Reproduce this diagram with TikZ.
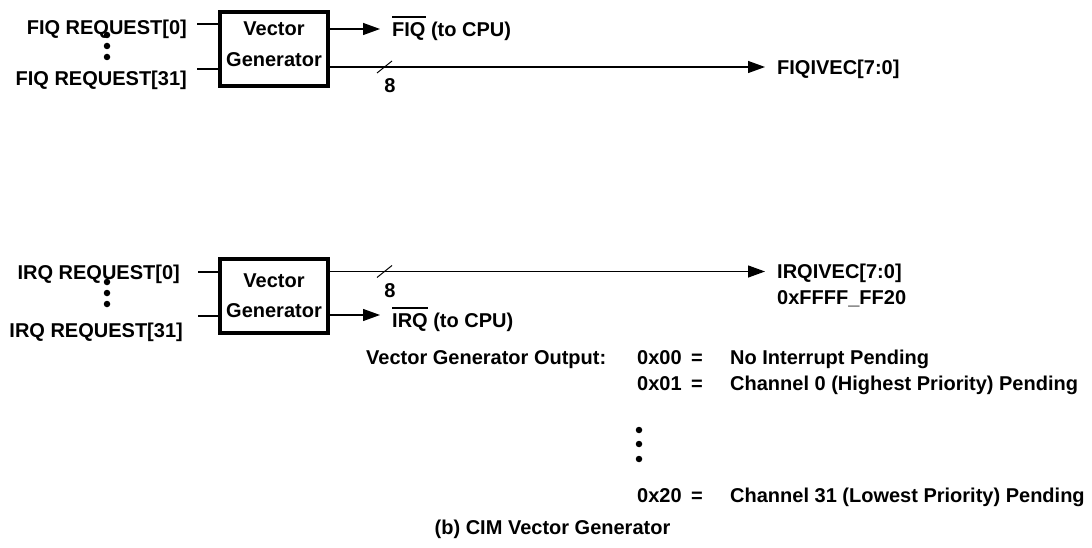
\documentclass[tikz,border=0pt]{standalone}
\usepackage{fontspec}
\setmainfont{Liberation Sans}
\usepackage{tikz}
\usetikzlibrary{arrows.meta, positioning}
\newcommand{\sigbar}[1]{\setbox0\hbox{#1}\rlap{\rule[18.5pt]{\wd0}{1.3pt}}\box0\relax}

\begin{document}
\begin{tikzpicture}[
  x=1pt, y=-1pt,
  lbl/.style={font=\fontsize{20}{24}\selectfont\bfseries, inner sep=0pt,
              text height=14.3pt, text depth=0pt},
  genbox/.style={rectangle, draw, line width=4pt,
                 minimum width=108pt, minimum height=74pt},
  wire/.style={line width=1.3pt},
  sig/.style={wire, -{Triangle[length=17pt, width=12pt]}},
  cut/.style={line width=1pt},
  vdot/.style={circle, fill, minimum size=6.5pt, inner sep=0pt}
]
\useasboundingbox (0,0) rectangle (1092,548);

% FIQ path
\node[lbl, anchor=east] (fiqreq0)  at (187,27.5) {FIQ REQUEST[0]};
\node[lbl, anchor=east] (fiqreq31) at (187,78)   {FIQ REQUEST[31]};
\node[vdot] (fiqdot1) at (107,35) {};
\node[vdot] (fiqdot2) at (107,46) {};
\node[vdot] (fiqdot3) at (107,57) {};
\node[genbox] (fiqgen) at (274,49) {};
\node[lbl] (fiqgen1) at (274,28) {Vector};
\node[lbl] (fiqgen2) at (274,59) {Generator};
\node[lbl, anchor=west] (fiqcpu) at (392,29) {\sigbar{FIQ} (to CPU)};
\node[lbl, anchor=west] (fiqvec) at (777,67) {FIQIVEC[7:0]};
\node[lbl] (fiqwidth) at (390,85) {8};
\coordinate (fiqin0)  at (197,24);
\coordinate (fiqin31) at (197,69);
\coordinate (fiqtip)  at (380,29);
\coordinate (fiqcut)  at (384.5,67);
\draw[wire] (fiqin0)  -- (fiqin0 -| fiqgen.west);
\draw[wire] (fiqin31) -- (fiqin31 -| fiqgen.west);
\draw[sig] (fiqgen.east |- fiqtip) -- (fiqtip);
\draw[sig] (fiqgen.east |- fiqvec) -- ([xshift=-12pt]fiqvec.west);
\draw[cut] ([shift={(-7.5,6)}]fiqcut) -- ([shift={(7.5,-6)}]fiqcut);

% IRQ path
\node[lbl, anchor=east] (irqreq0)  at (180,272) {IRQ REQUEST[0]};
\node[lbl, anchor=east] (irqreq31) at (183,330) {IRQ REQUEST[31]};
\node[vdot] (irqdot1) at (107,282) {};
\node[vdot] (irqdot2) at (107,293) {};
\node[vdot] (irqdot3) at (107,304) {};
\node[genbox] (irqgen) at (274,295.5) {};
\node[lbl] (irqgen1) at (274,280) {Vector};
\node[lbl] (irqgen2) at (274,310) {Generator};
\node[lbl, anchor=west] (irqvec) at (777,271.5) {IRQIVEC[7:0]};
\node[lbl, anchor=west] (irqaddr) at (777,297) {0xFFFF\_FF20};
\node[lbl, anchor=west] (irqcpu) at (392,320) {\sigbar{IRQ} (to CPU)};
\node[lbl] (irqwidth) at (390,290) {8};
\coordinate (irqin0)  at (198,272);
\coordinate (irqin31) at (198,316);
\coordinate (irqtip)  at (380,315);
\coordinate (irqcut)  at (384.5,271.5);
\draw[wire] (irqin0)  -- (irqin0 -| irqgen.west);
\draw[wire] (irqin31) -- (irqin31 -| irqgen.west);
\draw[sig] (irqgen.east |- irqvec) -- ([xshift=-12pt]irqvec.west);
\draw[sig] (irqgen.east |- irqtip) -- (irqtip);
\draw[cut] ([shift={(-7.5,6)}]irqcut) -- ([shift={(7.5,-6)}]irqcut);

% output codes
\node[lbl, anchor=west] (vgout) at (366,357) {Vector Generator Output:};
\node[lbl, anchor=west] (code0)  at (637,357) {0x00};
\node[lbl]              (eq0)    at (697,357) {=};
\node[lbl, anchor=west] (desc0)  at (730,357) {No Interrupt Pending};
\node[lbl, anchor=west] (code1)  at (637,383) {0x01};
\node[lbl]              (eq1)    at (697,383) {=};
\node[lbl, anchor=west] (desc1)  at (730,383) {Channel 0 (Highest Priority) Pending};
\node[vdot] (codedot1) at (639,430) {};
\node[vdot] (codedot2) at (639,444) {};
\node[vdot] (codedot3) at (639,459) {};
\node[lbl, anchor=west] (code31) at (637,495) {0x20};
\node[lbl]              (eq31)   at (697,495) {=};
\node[lbl, anchor=west] (desc31) at (730,495) {Channel 31 (Lowest Priority) Pending};

\node[lbl] (caption) at (552.5,527) {(b) CIM Vector Generator};
\end{tikzpicture}
\end{document}
